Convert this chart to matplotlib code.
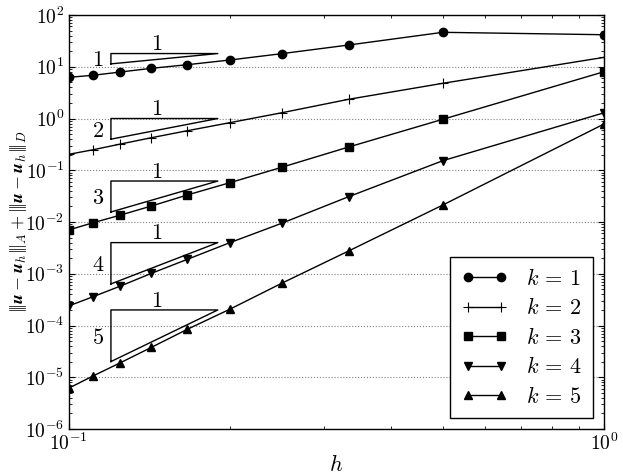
import matplotlib
matplotlib.use("Agg")
import matplotlib.pyplot as plt
from matplotlib.ticker import FuncFormatter, FixedLocator, NullFormatter
import numpy as np

plt.rcParams['mathtext.fontset'] = 'cm'
plt.rcParams['font.family'] = 'serif'
plt.rcParams['font.serif'] = ['cmr10', 'DejaVu Serif']
plt.rcParams['axes.formatter.use_mathtext'] = True

# mesh sizes h = 1/n
h = [1/10, 1/9, 1/8, 1/7, 1/6, 1/5, 1/4, 1/3, 1/2, 1.0]

err_k1 = [6.25, 6.84, 7.92, 9.33, 10.96, 13.5, 17.9, 26.3, 46.3, 41.6]
err_k2 = [0.203, 0.249, 0.321, 0.426, 0.581, 0.830, 1.29, 2.35, 4.79, 15.2]
err_k3 = [0.0070, 0.00968, 0.0136, 0.0204, 0.0333, 0.0574, 0.114, 0.281, 0.966, 8.02]
err_k4 = [2.38e-4, 3.60e-4, 5.79e-4, 1.02e-3, 1.90e-3, 3.98e-3, 9.44e-3, 0.0308, 0.153, 1.29]
err_k5 = [6.12e-6, 1.06e-5, 1.91e-5, 3.79e-5, 8.45e-5, 2.06e-4, 6.54e-4, 2.75e-3, 0.0213, 0.783]

series = [err_k1, err_k2, err_k3, err_k4, err_k5]
labels = [r'$k\,=\,1$', r'$k\,=\,2$', r'$k\,=\,3$', r'$k\,=\,4$', r'$k\,=\,5$']
markers = ['o', '+', 's', 'v', '^']
msizes = [6, 7, 5.5, 6, 6]

# slope triangles: orders and top-edge heights
orders = [1, 2, 3, 4, 5]
tri_top = [18.0, 1.0, 0.062, 0.004, 2.0e-4]
tri_x0, tri_x1 = 0.120, 0.190

# axis decades
y_decades = list(range(-6, 3))
x_decades = [-1, 0]

fig = plt.figure(figsize=(6.23, 4.75), dpi=100)
ax = fig.add_axes([0.110, 0.0968, 0.8595, 0.8716])

for y, lab, m, ms in zip(series, labels, markers, msizes):
    ax.plot(h, y, color='black', marker=m, markersize=ms, lw=1.0,
            markeredgewidth=1.0 if m != '+' else 0.8, label=lab)

for p, top in zip(orders, tri_top):
    bot = top / (tri_x1 / tri_x0) ** p
    ax.plot([tri_x0, tri_x0, tri_x1, tri_x0], [bot, top, top, bot],
            color='black', lw=1.0)
    ax.text(0.146, top * 10 ** (9 / 51.75), r'$1$', fontsize=16,
            ha='center', va='center')
    ymid = np.sqrt(top * bot) / 10 ** (2 / 51.75)
    ax.text(0.1135, ymid, r'$%d$' % p, fontsize=16, ha='center', va='center')

ax.set_xscale('log')
ax.set_yscale('log')
ax.set_xlim(0.1, 1.0)
ax.set_ylim(1e-6, 1e2)

fmt = FuncFormatter(lambda v, pos: r'$10^{%d}$' % int(round(np.log10(v))))
ax.xaxis.set_major_locator(FixedLocator([10.0 ** d for d in x_decades]))
ax.xaxis.set_minor_locator(FixedLocator([s * 0.1 for s in range(2, 10)]))
ax.yaxis.set_major_locator(FixedLocator([10.0 ** d for d in y_decades]))
ax.yaxis.set_minor_locator(FixedLocator([s * 10.0 ** d for d in y_decades[:-1]
                                         for s in range(2, 10)]))
ax.xaxis.set_major_formatter(fmt)
ax.yaxis.set_major_formatter(fmt)
ax.yaxis.set_minor_formatter(NullFormatter())
ax.xaxis.set_minor_formatter(NullFormatter())

ax.tick_params(which='both', direction='in', top=True, right=True, labelsize=14)
ax.tick_params(which='major', length=4, width=0.8)
ax.tick_params(which='minor', length=2, width=0.6)
ax.tick_params(axis='x', pad=3)
ax.tick_params(axis='y', pad=3)
for s in ax.spines.values():
    s.set_linewidth(1.0)

ax.yaxis.grid(True, which='major', linestyle=':', color='gray', lw=0.8)

ax.set_xlabel(r'$h$', fontsize=16, labelpad=0)
ax.set_ylabel(r'$|\!|\!|\boldsymbol{u}-\boldsymbol{u}_h|\!|\!|_A+|\!|\!|\boldsymbol{u}-\boldsymbol{u}_h|\!|\!|_D$',
              fontsize=13.0)
ax.yaxis.set_label_coords(-0.074, 0.5)

leg = ax.legend(loc='lower right', numpoints=2, fontsize=16, handlelength=2.1,
                fancybox=False, edgecolor='black', framealpha=1.0,
                borderaxespad=0.5, labelspacing=0.38, handletextpad=0.82,
                borderpad=0.5)
leg.get_frame().set_linewidth(1.0)

fig.savefig('out.png', dpi=100)
